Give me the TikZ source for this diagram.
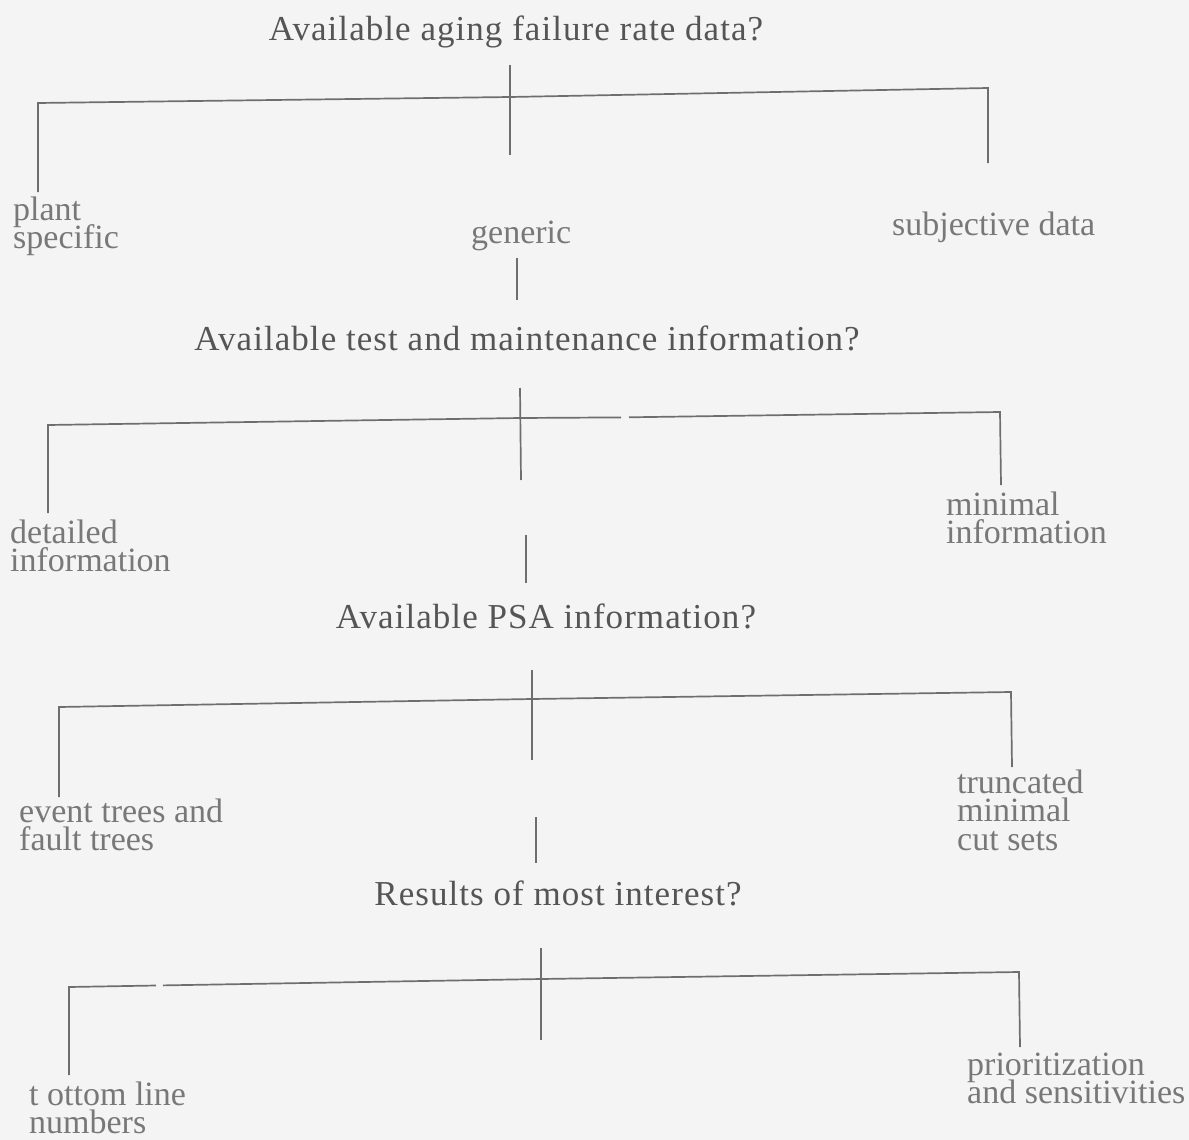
\documentclass[tikz,border=0pt]{standalone}
\usepackage{fontspec}
\setmainfont{Liberation Serif}
\newfontfamily\titlefont[LetterSpace=3.0]{Liberation Serif}
\definecolor{paper}{RGB}{244,244,244}
\definecolor{ink}{RGB}{110,110,110}
\definecolor{labelink}{RGB}{120,120,120}
\definecolor{titleink}{RGB}{85,85,85}
\newcommand\mylines[1]{\vtop{\baselineskip=28.5pt\lineskiplimit=-100pt\lineskip=0pt\halign{##\hfil\cr#1\crcr}}}
\tikzset{
  wire/.style={draw=ink, line width=1.7pt},
  question/.style={inner sep=0pt, anchor=base, text=titleink, font=\titlefont\fontsize{35}{35}\selectfont},
  answer/.style={inner sep=0pt, anchor=base west, text=labelink, font=\fontsize{34}{28}\selectfont}
}
\begin{document}
\begin{tikzpicture}[x=1pt,y=-1pt]
\fill[paper] (0,0) rectangle (1189,1140);
\useasboundingbox (0,0) rectangle (1189,1140);

% ---------- Level 1 ----------
\node[question] (q1) at (516,41) {Available aging failure rate data?};
\coordinate (s1t) at (510,65);
\coordinate (s1b) at (510,155);
\coordinate (j1) at (510,97);
\coordinate (l1c) at (38,103);
\coordinate (l1b) at (38,192);
\coordinate (r1c) at (988,88);
\coordinate (r1b) at (988,163);
\draw[wire] (s1t) -- (s1b);
\draw[wire] (l1b) -- (l1c) -- (j1) -- (r1c) -- (r1b);
\node[answer] (a11) at (13,220) {\mylines{plant\cr specific}};
\node[answer] (a12) at (471,243) {generic};
\node[answer] (a13) at (892,235) {subjective data};
\coordinate (g1t) at (517,258);
\coordinate (g1b) at (517,300);
\draw[wire] (g1t) -- (g1b);

% ---------- Level 2 ----------
\node[question] (q2) at (527,350) {Available test and maintenance information?};
\coordinate (s2t) at (520,388);
\coordinate (s2b) at (521,480);
\coordinate (j2) at (520,418);
\coordinate (l2c) at (48,425);
\coordinate (l2b) at (48,513);
\coordinate (r2c) at (1000,412);
\coordinate (r2b) at (1001,485);
\coordinate (gap2a) at (621,417.4);
\coordinate (gap2b) at (629,417.3);
\draw[wire] (s2t) -- (s2b);
\draw[wire] (l2b) -- (l2c) -- (j2) -- (gap2a);
\draw[wire] (gap2b) -- (r2c) -- (r2b);
\node[answer] (a21) at (10,543) {\mylines{detailed\cr information}};
\node[answer] (a22) at (946,515) {\mylines{minimal\cr information}};
\coordinate (g2t) at (526,535);
\coordinate (g2b) at (526,583);
\draw[wire] (g2t) -- (g2b);

% ---------- Level 3 ----------
\node[question] (q3) at (546,628) {Available PSA information?};
\coordinate (s3t) at (532,670);
\coordinate (s3b) at (532,760);
\coordinate (j3) at (532,699);
\coordinate (l3c) at (59,707);
\coordinate (l3b) at (59,797);
\coordinate (r3c) at (1011,692);
\coordinate (r3b) at (1012,767);
\draw[wire] (s3t) -- (s3b);
\draw[wire] (l3b) -- (l3c) -- (j3) -- (r3c) -- (r3b);
\node[answer] (a31) at (19,822) {\mylines{event trees and\cr fault trees}};
\node[answer] (a32) at (957,793) {\mylines{truncated\cr minimal\cr cut sets}};
\coordinate (g3t) at (536,817);
\coordinate (g3b) at (536,863);
\draw[wire] (g3t) -- (g3b);

% ---------- Level 4 ----------
\node[question] (q4) at (558,905) {Results of most interest?};
\coordinate (s4t) at (541,948);
\coordinate (s4b) at (541,1040);
\coordinate (j4) at (541,979);
\coordinate (l4c) at (69,987);
\coordinate (l4b) at (69,1075);
\coordinate (r4c) at (1019,972);
\coordinate (r4b) at (1020,1047);
\coordinate (gap4a) at (156,985.5);
\coordinate (gap4b) at (163,985.4);
\draw[wire] (s4t) -- (s4b);
\draw[wire] (l4b) -- (l4c) -- (gap4a);
\draw[wire] (gap4b) -- (j4) -- (r4c) -- (r4b);
\node[answer] (a41) at (29,1105) {\mylines{t ottom line\cr numbers}};
\node[answer] (a42) at (967,1075) {\mylines{prioritization\cr and sensitivities}};
\end{tikzpicture}
\end{document}
